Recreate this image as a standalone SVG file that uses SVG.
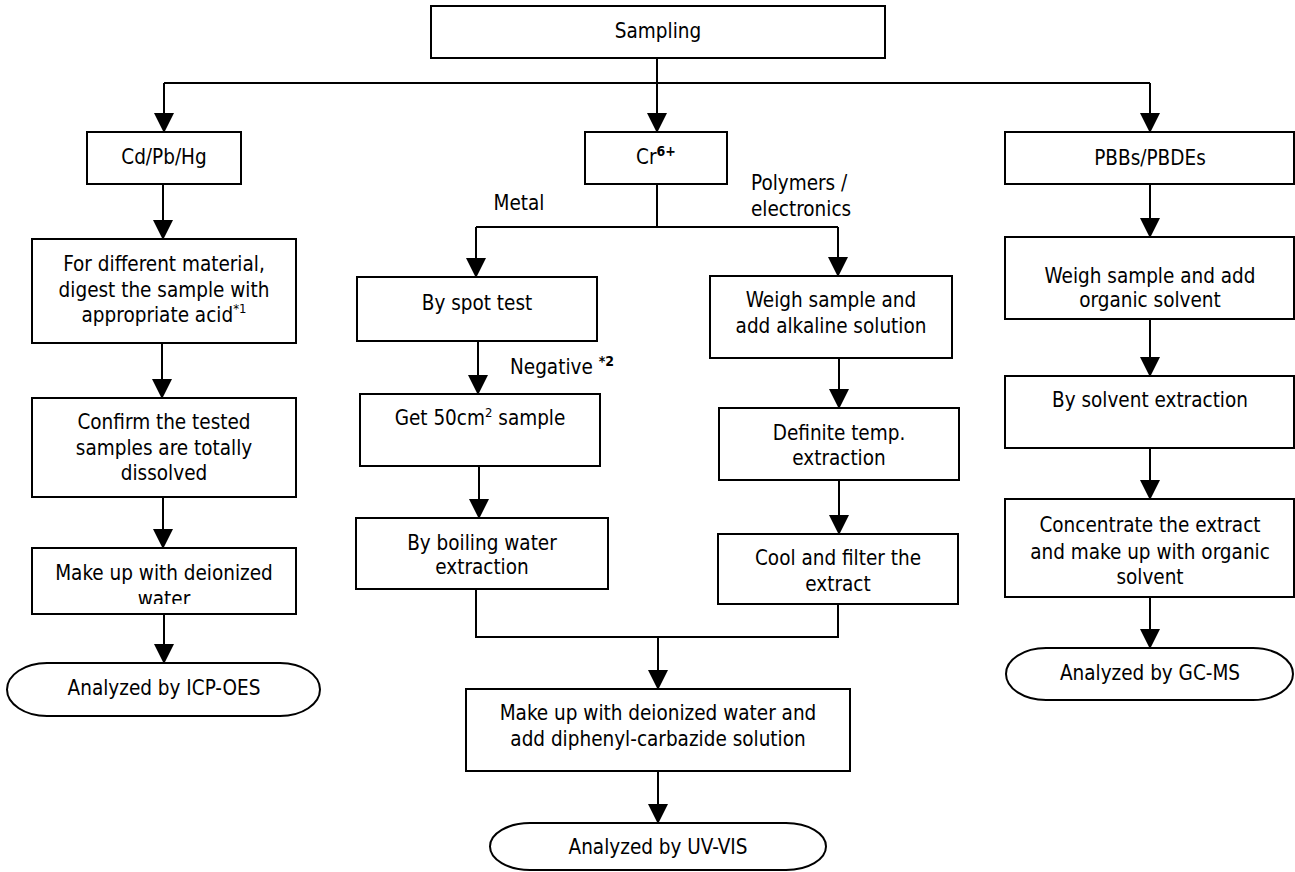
<svg xmlns="http://www.w3.org/2000/svg" width="1295" height="872" viewBox="0 0 1295 872">
<style>
.box{fill:#fff;stroke:#000;stroke-width:2}
.t{font-family:"DejaVu Sans Condensed","DejaVu Sans",sans-serif;font-size:20.5px;text-anchor:middle;fill:#000}
.l{text-anchor:start}
.c{fill:none;stroke:#000;stroke-width:2}
.a{marker-end:url(#ah)}
.sup{font-size:13px}
.supb{font-size:14px;font-weight:bold}
</style>
<defs>
<marker id="ah" markerUnits="userSpaceOnUse" markerWidth="20" markerHeight="20" refX="19" refY="10" orient="auto" viewBox="0 0 20 20">
<path d="M0,0 L20,10 L0,20 Z" fill="#000"/>
</marker>
<clipPath id="clipWater"><rect x="32" y="548" width="264" height="56"/></clipPath>
<clipPath id="clipExtract"><rect x="718" y="534" width="240" height="59"/></clipPath>
</defs>
<rect width="1295" height="872" fill="#fff"/>

<g id="connectors">
<path class="c" d="M657,58 V83"/>
<path class="c" d="M164,83 H1150"/>
<path class="c a" d="M164,83 V132"/>
<path class="c a" d="M657,83 V132"/>
<path class="c a" d="M1150,83 V132"/>
<path class="c a" d="M163,184 V239"/>
<path class="c a" d="M162,343 V398"/>
<path class="c a" d="M163,497 V548"/>
<path class="c a" d="M164,614 V663"/>
<path class="c" d="M657,184 V227"/>
<path class="c" d="M476,227 H838"/>
<path class="c a" d="M476,227 V277"/>
<path class="c a" d="M838,227 V276"/>
<path class="c a" d="M478,341 V394"/>
<path class="c a" d="M479,466 V518"/>
<path class="c a" d="M839,358 V408"/>
<path class="c a" d="M839,480 V534"/>
<path class="c" d="M476,589 V637 H838 V604"/>
<path class="c a" d="M658,637 V689"/>
<path class="c a" d="M658,771 V823"/>
<path class="c a" d="M1150,184 V237"/>
<path class="c a" d="M1150,319 V376"/>
<path class="c a" d="M1150,448 V499"/>
<path class="c a" d="M1150,597 V648"/>
</g>

<g id="labels">
<text class="t" x="519" y="210">Metal</text>
<text class="t l" x="751" y="190">Polymers /</text>
<text class="t l" x="751" y="216">electronics</text>
<text class="t l" x="510" y="374">Negative <tspan class="supb" dy="-8">*2</tspan></text>
</g>

<g id="sampling">
<rect class="box" x="431" y="6" width="454" height="52"/>
<text class="t" x="658" y="38">Sampling</text>
</g>

<g id="cdpbhg">
<rect class="box" x="87" y="132" width="154" height="52"/>
<text class="t" x="164" y="164">Cd/Pb/Hg</text>
</g>

<g id="digest">
<rect class="box" x="32" y="239" width="264" height="104"/>
<text class="t" x="164" y="271">For different material,</text>
<text class="t" x="164" y="296.5">digest the sample with</text>
<text class="t" x="164" y="322">appropriate acid<tspan class="sup" dy="-9">*1</tspan></text>
</g>

<g id="confirm">
<rect class="box" x="32" y="398" width="264" height="99"/>
<text class="t" x="164" y="429">Confirm the tested</text>
<text class="t" x="164" y="455">samples are totally</text>
<text class="t" x="164" y="480">dissolved</text>
</g>

<g id="makeup-left">
<rect class="box" x="32" y="548" width="264" height="66"/>
<text class="t" x="164" y="580">Make up with deionized</text>
<text class="t" x="164" y="606" clip-path="url(#clipWater)">water</text>
</g>

<g id="icp">
<path class="box" d="M47,663 H280 A40,26.5 0 0 1 280,716 H47 A40,26.5 0 0 1 47,663 Z"/>
<text class="t" x="164" y="695">Analyzed by ICP-OES</text>
</g>

<g id="cr6">
<rect class="box" x="585" y="132" width="142" height="52"/>
<text class="t" x="656" y="164">Cr<tspan class="supb" dy="-8">6+</tspan></text>
</g>

<g id="spot">
<rect class="box" x="357" y="277" width="240" height="64"/>
<text class="t" x="477" y="310">By spot test</text>
</g>

<g id="get50">
<rect class="box" x="360" y="394" width="240" height="72"/>
<text class="t" x="480" y="425">Get 50cm<tspan class="sup" dy="-8">2</tspan><tspan dy="8"> sample</tspan></text>
</g>

<g id="boiling">
<rect class="box" x="356" y="518" width="252" height="71"/>
<text class="t" x="482" y="550">By boiling water</text>
<text class="t" x="482" y="574">extraction</text>
</g>

<g id="alkaline">
<rect class="box" x="710" y="276" width="242" height="82"/>
<text class="t" x="831" y="307">Weigh sample and</text>
<text class="t" x="831" y="333">add alkaline solution</text>
</g>

<g id="definite">
<rect class="box" x="719" y="408" width="240" height="72"/>
<text class="t" x="839" y="440">Definite temp.</text>
<text class="t" x="839" y="465">extraction</text>
</g>

<g id="cool">
<rect class="box" x="718" y="534" width="240" height="70"/>
<text class="t" x="838" y="565">Cool and filter the</text>
<text class="t" x="838" y="591" clip-path="url(#clipExtract)">extract</text>
</g>

<g id="diphenyl">
<rect class="box" x="466" y="689" width="384" height="82"/>
<text class="t" x="658" y="720">Make up with deionized water and</text>
<text class="t" x="658" y="746">add diphenyl-carbazide solution</text>
</g>

<g id="uvvis">
<path class="box" d="M530,823 H786 A40,23.5 0 0 1 786,870 H530 A40,23.5 0 0 1 530,823 Z"/>
<text class="t" x="658" y="854">Analyzed by UV-VIS</text>
</g>

<g id="pbbs">
<rect class="box" x="1005" y="132" width="289" height="52"/>
<text class="t" x="1150" y="165">PBBs/PBDEs</text>
</g>

<g id="organic">
<rect class="box" x="1005" y="237" width="289" height="82"/>
<text class="t" x="1150" y="283">Weigh sample and add</text>
<text class="t" x="1150" y="307">organic solvent</text>
</g>

<g id="solvent">
<rect class="box" x="1005" y="376" width="289" height="72"/>
<text class="t" x="1150" y="407">By solvent extraction</text>
</g>

<g id="concentrate">
<rect class="box" x="1005" y="499" width="289" height="98"/>
<text class="t" x="1150" y="532">Concentrate the extract</text>
<text class="t" x="1150" y="558.5">and make up with organic</text>
<text class="t" x="1150" y="584">solvent</text>
</g>

<g id="gcms">
<path class="box" d="M1046,648 H1253 A40,26 0 0 1 1253,700 H1046 A40,26 0 0 1 1046,648 Z"/>
<text class="t" x="1150" y="680">Analyzed by GC-MS</text>
</g>
</svg>
